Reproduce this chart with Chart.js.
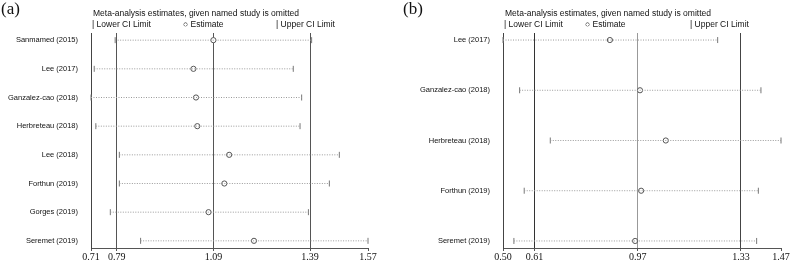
<!DOCTYPE html>
<html>
<head>
<meta charset="utf-8">
<script src="https://cdn.jsdelivr.net/npm/chart.js@4.4.1/dist/chart.umd.min.js"></script>
<style>
  body { margin: 0; background: #fff; width: 792px; height: 261px; position: relative; overflow: hidden; }
  .wrap { position: absolute; top: 0; height: 261px; }
  .tag { position: absolute; top: -1px; font-family: "Liberation Serif", "Times New Roman", serif; font-size: 17px; color: #111; }
  .head { position: absolute; font-family: "Liberation Sans", Arial, sans-serif; font-size: 8.5px; color: #111; white-space: nowrap; }
</style>
</head>
<body>
<div class="wrap" style="left:0;width:395px"><canvas id="chartA" width="395" height="261"></canvas></div>
<div class="wrap" style="left:395px;width:397px"><canvas id="chartB" width="397" height="261"></canvas></div>

<div class="tag" style="left:1px">(a)</div>
<div class="head" style="left:93px;top:8px">Meta-analysis estimates, given named study is omitted</div>
<div class="head" style="left:92px;top:19px">| Lower CI Limit</div>
<div class="head" style="left:183px;top:19px">○ Estimate</div>
<div class="head" style="left:276px;top:19px">| Upper CI Limit</div>

<div class="tag" style="left:403px">(b)</div>
<div class="head" style="left:505px;top:8px">Meta-analysis estimates, given named study is omitted</div>
<div class="head" style="left:504px;top:19px">| Lower CI Limit</div>
<div class="head" style="left:585px;top:19px">○ Estimate</div>
<div class="head" style="left:690px;top:19px">| Upper CI Limit</div>

<script>
// panel (a)
const studiesA = ['Sanmamed (2015)', 'Lee (2017)', 'Ganzalez-cao (2018)', 'Herbreteau (2018)', 'Lee (2018)', 'Forthun (2019)', 'Gorges (2019)', 'Seremet (2019)'];
const lowerA = [0.785, 0.72, 0.71, 0.725, 0.798, 0.798, 0.77, 0.864];
const estimateA = [1.09, 1.028, 1.036, 1.040, 1.139, 1.124, 1.075, 1.216];
const upperA = [1.395, 1.338, 1.364, 1.359, 1.481, 1.450, 1.385, 1.57];
const ticksA = [0.71, 0.79, 1.09, 1.39, 1.57];

// panel (b)
const studiesB = ['Lee (2017)', 'Ganzalez-cao (2018)', 'Herbreteau (2018)', 'Forthun (2019)', 'Seremet (2019)'];
const lowerB = [0.50, 0.558, 0.665, 0.574, 0.538];
const estimateB = [0.873, 0.978, 1.068, 0.982, 0.961];
const upperB = [1.249, 1.400, 1.47, 1.391, 1.385];
const ticksB = [0.50, 0.61, 0.97, 1.33, 1.47];

function makeChart(id, studies, lower, est, upper, ticks, opts) {
    const datasets = [];

    for (let i = 0; i < studies.length; i++) {
        datasets.push({
            data: [{ x: lower[i], y: i }, { x: upper[i], y: i }],
            showLine: true,
            borderColor: '#9a9a9a',
            borderWidth: 1,
            borderDash: [1, 1.5],
            pointRadius: 0
        });
    }

    const caps = [];
    for (let i = 0; i < studies.length; i++) {
        caps.push({ x: lower[i], y: i });
        caps.push({ x: upper[i], y: i });
    }
    datasets.push({
        data: caps,
        pointStyle: 'line',
        rotation: 90,
        pointRadius: 3,
        borderColor: '#777',
        borderWidth: 1
    });

    datasets.push({
        data: est.map((v, i) => ({ x: v, y: i })),
        pointStyle: 'circle',
        pointRadius: 2.6,
        backgroundColor: '#fff',
        borderColor: '#555',
        borderWidth: 1
    });

    const last = ticks.length - 1;
    const pad = opts.pad;

    return new Chart(document.getElementById(id).getContext('2d'), {
        type: 'scatter',
        data: { datasets: datasets },
        options: {
            responsive: false,
            animation: false,
            clip: false,
            layout: { padding: { top: 33, right: opts.right, left: 0, bottom: 0 } },
            plugins: { legend: { display: false }, tooltip: { enabled: false } },
            scales: {
                x: {
                    type: 'linear',
                    min: ticks[0],
                    max: ticks[last],
                    afterBuildTicks: (s) => { s.ticks = ticks.map(v => ({ value: v })); },
                    afterFit: (s) => { s.height = 13; },
                    ticks: {
                        autoSkip: false,
                        maxRotation: 0,
                        padding: 0,
                        color: '#111',
                        font: { family: '"Liberation Serif", "Times New Roman", serif', size: 10 },
                        callback: (v) => v.toFixed(2)
                    },
                    grid: {
                        drawOnChartArea: true,
                        tickLength: 3,
                        tickColor: '#555',
                        lineWidth: 1,
                        color: (c) => (c.index === 0 || c.index === last) ? 'rgba(0,0,0,0)' : opts.lineColors[c.index - 1]
                    },
                    border: { display: true, color: '#555', width: 1 }
                },
                y: {
                    type: 'linear',
                    reverse: true,
                    min: -pad,
                    max: studies.length - 1 + pad,
                    afterBuildTicks: (s) => { s.ticks = studies.map((_, i) => ({ value: i })); },
                    afterFit: (s) => { s.width = opts.left; },
                    ticks: {
                        autoSkip: false,
                        padding: 5,
                        color: '#111',
                        font: { family: '"Liberation Sans", Arial, sans-serif', size: 7.5 },
                        callback: (v) => studies[v]
                    },
                    grid: { display: false },
                    border: { display: true, color: '#444', width: 1 }
                }
            }
        }
    });
}

makeChart('chartA', studiesA, lowerA, estimateA, upperA, ticksA,
    { left: 91, right: 27, pad: 0.25, lineColors: ['#555', '#555', '#555'] });
makeChart('chartB', studiesB, lowerB, estimateB, upperB, ticksB,
    { left: 108, right: 11, pad: 0.14, lineColors: ['#333', '#999', '#444'] });
</script>
</body>
</html>
